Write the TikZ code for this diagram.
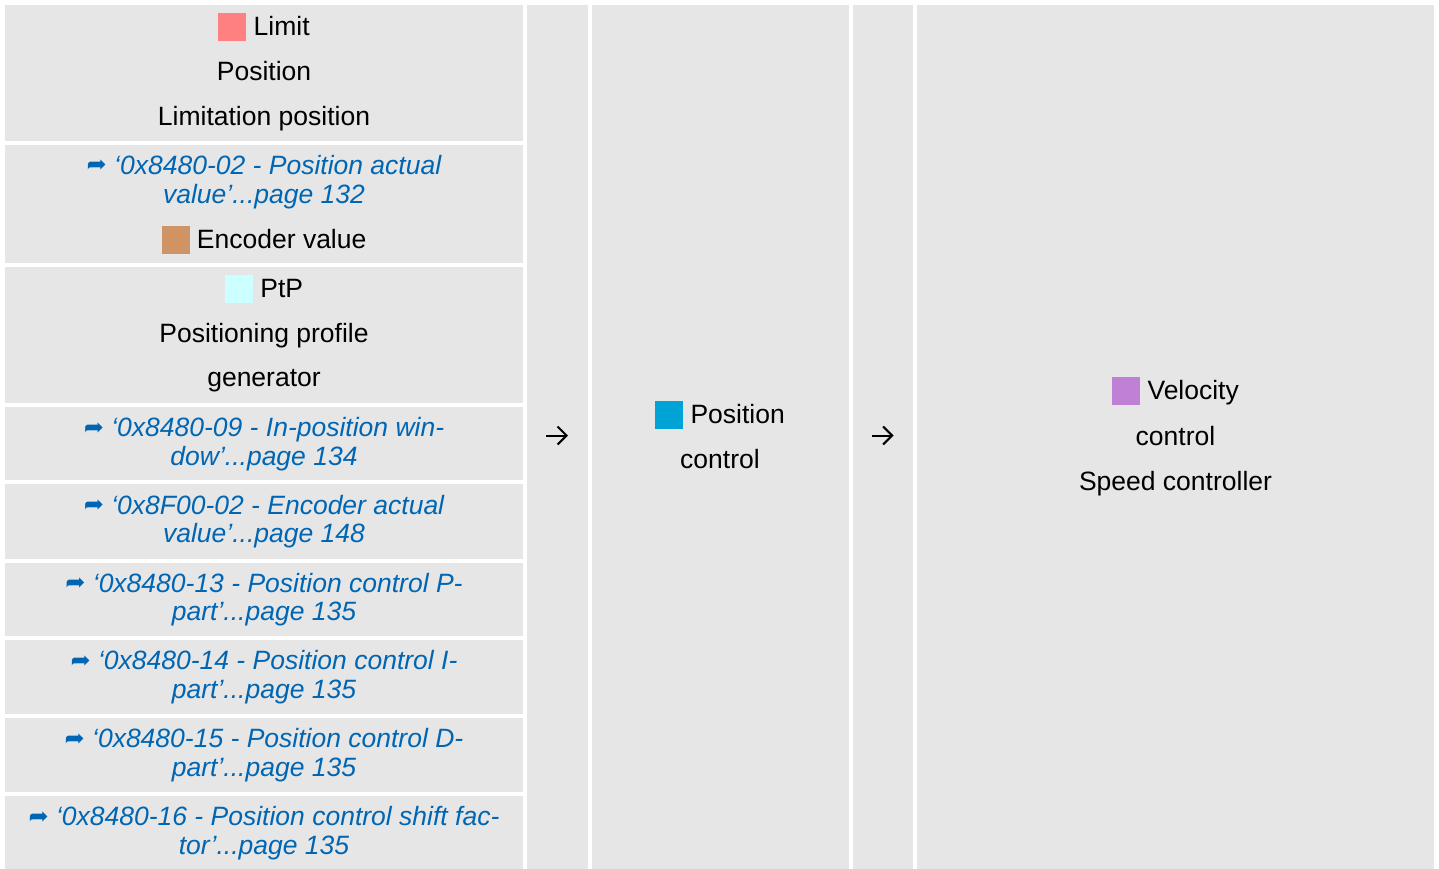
\documentclass[tikz,border=0pt]{standalone}
\usepackage{fontspec}
\setmainfont{Liberation Sans}
\newfontfamily\symfont{DejaVu Sans}
\usetikzlibrary{arrows.meta}
\definecolor{cellgray}{HTML}{E6E6E6}
\definecolor{linkblue}{RGB}{0,102,179}
\definecolor{limitc}{HTML}{FF8080}
\definecolor{encc}{HTML}{D09464}
\definecolor{ptpc}{HTML}{CCFFFF}
\definecolor{posc}{HTML}{00A3D6}
\definecolor{velc}{HTML}{BF80D6}
\newcommand\csq[1]{\textcolor{#1}{\rule[-6pt]{28pt}{28pt}}}
\newcommand\lnk{\raisebox{1.5pt}{\symfont\upshape\fontsize{24}{24}\selectfont ➦}}
\begin{document}
\begin{tikzpicture}[x=1pt,y=-1pt,
  cell/.style={fill=cellgray, draw=none},
  txt/.style={anchor=base, inner sep=0pt, font=\fontsize{26.5}{30}\selectfont},
  ref/.style={anchor=base, inner sep=0pt, text=linkblue, font=\fontsize{26.5}{30}\selectfont\itshape},
  glyph/.style={line width=2pt, -{Straight Barb[length=9pt,width=18pt]}}]
\useasboundingbox (0,0) rectangle (1439,868);
\fill[white] (0,0) rectangle (1439,868);
% left column cells
\path[cell] (5,5) rectangle (523,140.5);
\path[cell] (5,144.5) rectangle (523,263);
\path[cell] (5,267) rectangle (523,403);
\path[cell] (5,407) rectangle (523,480);
\path[cell] (5,484) rectangle (523,558.5);
\path[cell] (5,562.5) rectangle (523,636);
\path[cell] (5,640) rectangle (523,714);
\path[cell] (5,718) rectangle (523,792);
\path[cell] (5,796) rectangle (523,878);
% other columns
\path[cell] (527,5) rectangle (587.5,878);
\path[cell] (591.5,5) rectangle (848.5,878);
\path[cell] (852.5,5) rectangle (913,878);
\path[cell] (917,5) rectangle (1434,878);
% row 1
\node[txt] (r1a) at (264,35) {\csq{limitc} Limit};
\node[txt] (r1b) at (264,80) {Position};
\node[txt] (r1c) at (264,125) {Limitation position};
% row 2
\node[ref] (r2a) at (264,174.3) {\lnk\ ‘0x8480-02 - Position actual};
\node[ref] (r2b) at (264,203.3) {value’...page 132};
\node[txt] (r2c) at (264,248.3) {\csq{encc} Encoder value};
% row 3
\node[txt] (r3a) at (264,297.3) {\csq{ptpc} PtP};
\node[txt] (r3b) at (264,342.3) {Positioning profile};
\node[txt] (r3c) at (264,386.7) {generator};
% row 4
\node[ref] (r4a) at (264,436.5) {\lnk\ ‘0x8480-09 - In-position win-};
\node[ref] (r4b) at (264,465) {dow’...page 134};
% row 5
\node[ref] (r5a) at (264,514) {\lnk\ ‘0x8F00-02 - Encoder actual};
\node[ref] (r5b) at (264,542.5) {value’...page 148};
% row 6
\node[ref] (r6a) at (264,592) {\lnk\ ‘0x8480-13 - Position control P-};
\node[ref] (r6b) at (264,620.5) {part’...page 135};
% row 7
\node[ref] (r7a) at (264,669.5) {\lnk\ ‘0x8480-14 - Position control I-};
\node[ref] (r7b) at (264,698) {part’...page 135};
% row 8
\node[ref] (r8a) at (264,747.5) {\lnk\ ‘0x8480-15 - Position control D-};
\node[ref] (r8b) at (264,776) {part’...page 135};
% row 9
\node[ref] (r9a) at (264,825.5) {\lnk\ ‘0x8480-16 - Position control shift fac-};
\node[ref] (r9b) at (264,854) {tor’...page 135};
% position control
\node[txt] (pc1) at (720,423.3) {\csq{posc} Position};
\node[txt] (pc2) at (720,468) {control};
% velocity control
\node[txt] (vc1) at (1175.5,399) {\csq{velc} Velocity};
\node[txt] (vc2) at (1175.5,445) {control};
\node[txt] (vc3) at (1175.5,490) {Speed controller};
% arrows
\coordinate (g1s) at (546,435.5);
\coordinate (g1e) at (568,435.5);
\coordinate (g2s) at (871.5,435.5);
\coordinate (g2e) at (893.5,435.5);
\draw[glyph] (g1s) -- (g1e);
\draw[glyph] (g2s) -- (g2e);
\end{tikzpicture}
\end{document}
